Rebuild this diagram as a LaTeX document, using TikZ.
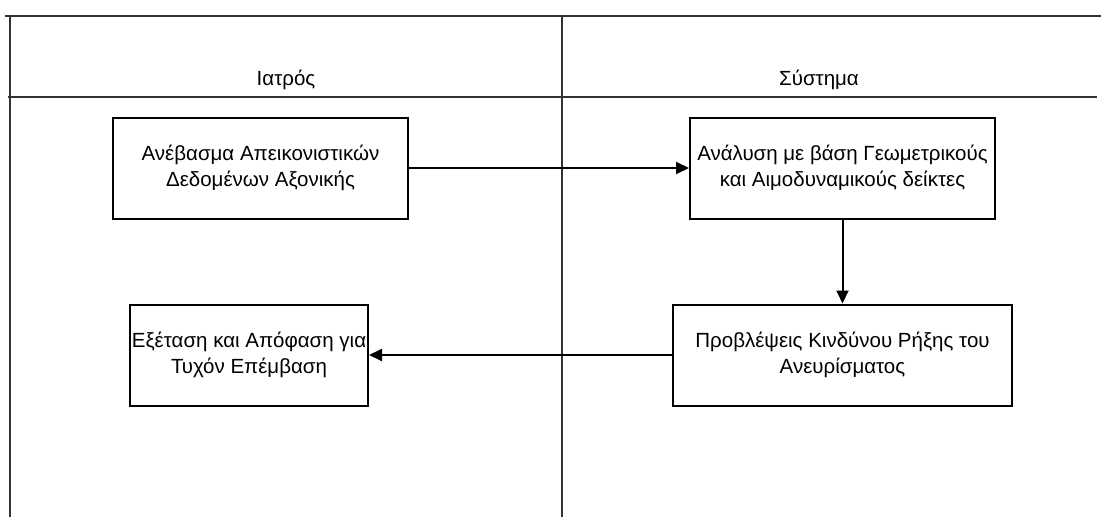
\documentclass[tikz,border=0pt]{standalone}
\usepackage{fontspec}
\setmainfont{Liberation Sans}
\usetikzlibrary{arrows.meta, positioning}

\begin{document}
\begin{tikzpicture}[
  x=1pt, y=-1pt,
  font=\fontsize{20.5}{26}\selectfont,
  >={Triangle[length=13pt, width=12pt]},
  lane/.style={draw=black!80, line width=2pt},
  task/.style={rectangle, draw, line width=2pt, minimum height=101pt,
               inner sep=0pt, align=center},
  lane-hdr/.style={font=\fontsize{20.5}{24}\selectfont, inner sep=0pt},
  flow/.style={->, line width=2pt}
]
  \useasboundingbox (0,0) rectangle (1101,517);

  % ===========================================================
  % Pool with two lanes
  % ===========================================================
  \draw[lane] (5,16) -- (1101,16);
  \draw[lane] (8,97) -- (1097,97);
  \draw[lane] (10,16) -- (10,517);
  \draw[lane] (562,16) -- (562,517);

  \node[lane-hdr] (doc) at (286,80) {Ιατρός};
  \node[lane-hdr] (sys) at (819,80) {Σύστημα};

  % ===========================================================
  % Tasks
  % ===========================================================
  \node[task, minimum width=295pt] (upload)  at (260.5,168)
    {Ανέβασμα Απεικονιστικών\\Δεδομένων Αξονικής};
  \node[task, minimum width=305pt] (analyse) at (842.5,168)
    {Ανάλυση με βάση Γεωμετρικούς\\και Αιμοδυναμικούς δείκτες};
  \node[task, minimum width=339pt] (predict) at (842.5,355)
    {Προβλέψεις Κινδύνου Ρήξης του\\Ανευρίσματος};
  \node[task, minimum width=238pt] (decide)  at (249,355)
    {Εξέταση και Απόφαση για\\Τυχόν Επέμβαση};

  % ===========================================================
  % Flow
  % ===========================================================
  \draw[flow] (upload)  -- (analyse);
  \draw[flow] (analyse) -- (predict);
  \draw[flow] (predict) -- (decide);

\end{tikzpicture}
\end{document}
